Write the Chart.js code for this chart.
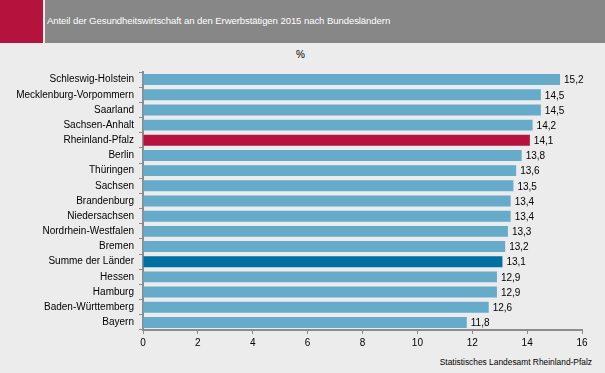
<!DOCTYPE html>
<html>
<head>
<meta charset="utf-8">
<script src="https://cdn.jsdelivr.net/npm/chart.js@4"></script>
<style>
  body { margin: 0; background: #ececec; font-family: "Liberation Sans", Arial, sans-serif; }
  #wrap { position: relative; width: 605px; height: 373px; overflow: hidden; }
  #redBlock { position: absolute; left: 0; top: 0; width: 43px; height: 43px; background: #b5123d; }
  #header { position: absolute; left: 45px; top: 0; width: 560px; height: 43px; background: #878787; }
  #title { position: absolute; left: 47px; top: 15px; color: #fff; font-size: 9.6px; letter-spacing: -0.1px; }
  #unit { position: absolute; left: 296px; top: 49px; font-size: 10px; color: #000; }
  #source { position: absolute; right: 13px; top: 357px; font-size: 8.4px; color: #000; }
  canvas { position: absolute; left: 0; top: 0; }
</style>
</head>
<body>
<div id="wrap">
  <div id="redBlock"></div>
  <div id="header"></div>
  <div id="title">Anteil der Gesundheitswirtschaft an den Erwerbstätigen 2015 nach Bundesländern</div>
  <div id="unit">%</div>
  <div id="source">Statistisches Landesamt Rheinland-Pfalz</div>
  <canvas id="myChart" width="605" height="373"></canvas>
</div>
<script>
const laender = ["Schleswig-Holstein", "Mecklenburg-Vorpommern", "Saarland", "Sachsen-Anhalt", "Rheinland-Pfalz",
    "Berlin", "Thüringen", "Sachsen", "Brandenburg", "Niedersachsen", "Nordrhein-Westfalen", "Bremen",
    "Summe der Länder", "Hessen", "Hamburg", "Baden-Württemberg", "Bayern"]
const anteil = [15.2, 14.5, 14.5, 14.2, 14.1, 13.8, 13.6, 13.5, 13.4, 13.4, 13.3, 13.2, 13.1, 12.9, 12.9, 12.6, 11.8]
const xTicks = [0, 2, 4, 6, 8, 10, 12, 14, 16]

const normalBlue = "#66abc9"
const axisGray = "#8c8c8c"

function barColor(name) {
    if (name == "Rheinland-Pfalz") return "#b5123d"
    if (name == "Summe der Länder") return "#0070a0"
    return normalBlue
}

const valueLabels = {
    id: "valueLabels",
    afterDatasetsDraw(chart) {
        var ctx = chart.ctx
        var meta = chart.getDatasetMeta(0)
        ctx.save()
        ctx.font = "10px 'Liberation Sans', Arial, sans-serif"
        ctx.fillStyle = "#000"
        ctx.textBaseline = "middle"
        meta.data.forEach(function (bar, i) {
            ctx.fillText(anteil[i].toFixed(1).replace(".", ","), bar.x + 4, bar.y + 1)
        })
        ctx.restore()
    }
}

var ctx = document.getElementById("myChart").getContext("2d")
var chart = new Chart(ctx, {
    type: 'bar',
    data: {
        labels: laender,
        datasets: [{
            data: anteil,
            backgroundColor: laender.map(barColor),
            barPercentage: 0.72,
            categoryPercentage: 1
        }]
    },
    options: {
        indexAxis: 'y',
        responsive: false,
        animation: false,
        layout: { padding: { top: 72, right: 23, left: 0, bottom: 0 } },
        plugins: { legend: { display: false }, tooltip: { enabled: false } },
        scales: {
            x: {
                min: 0,
                max: 16,
                afterBuildTicks: function (scale) {
                    scale.ticks = xTicks.map(function (v) { return { value: v } })
                },
                afterFit: function (scale) { scale.height = 43 },
                grid: { drawOnChartArea: false, drawTicks: true, tickLength: 4, color: axisGray, lineWidth: 1 },
                border: { color: axisGray, width: 2 },
                ticks: { color: "#000", font: { family: "'Liberation Sans', Arial", size: 10 }, padding: 3 }
            },
            y: {
                afterFit: function (scale) { scale.width = 143 },
                grid: { drawOnChartArea: false, drawTicks: true, tickLength: 4, color: axisGray, lineWidth: 1, offset: true },
                border: { color: axisGray, width: 2 },
                ticks: { color: "#000", font: { family: "'Liberation Sans', Arial", size: 10 }, padding: 5, autoSkip: false }
            }
        }
    },
    plugins: [valueLabels]
})
</script>
</body>
</html>
